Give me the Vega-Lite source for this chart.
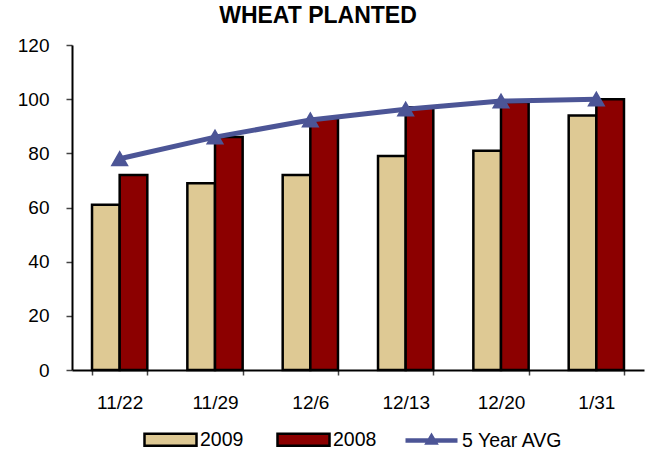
{
  "$schema": "https://vega.github.io/schema/vega-lite/v6.json",
  "autosize": "none",
  "width": 572,
  "height": 325,
  "padding": {"left": 72, "top": 45, "right": 2, "bottom": 82},
  "background": "white",
  "title": {
    "text": "WHEAT PLANTED",
    "font": "Liberation Sans",
    "fontSize": 23,
    "fontWeight": "bold",
    "color": "black",
    "anchor": "middle",
    "frame": "group",
    "dx": -40,
    "offset": 8
  },
  "config": {
    "view": {"stroke": null},
    "font": "Liberation Sans",
    "axis": {"labelFont": "Liberation Sans", "labelFontSize": 19, "labelColor": "black", "grid": false},
    "legend": {"labelFont": "Liberation Sans", "labelFontSize": 19.5, "labelColor": "black", "labelOffset": 2, "padding": 0, "title": null}
  },
  "data": {
    "values": [
      {"date": "11/22", "series": "2009", "value": 61},
      {"date": "11/29", "series": "2009", "value": 69},
      {"date": "12/6", "series": "2009", "value": 72},
      {"date": "12/13", "series": "2009", "value": 79},
      {"date": "12/20", "series": "2009", "value": 81},
      {"date": "1/31", "series": "2009", "value": 94},
      {"date": "11/22", "series": "2008", "value": 72},
      {"date": "11/29", "series": "2008", "value": 86},
      {"date": "12/6", "series": "2008", "value": 93},
      {"date": "12/13", "series": "2008", "value": 97},
      {"date": "12/20", "series": "2008", "value": 99},
      {"date": "1/31", "series": "2008", "value": 100},
      {"date": "11/22", "series": "5 Year AVG", "value": 78},
      {"date": "11/29", "series": "5 Year AVG", "value": 86},
      {"date": "12/6", "series": "5 Year AVG", "value": 92.3},
      {"date": "12/13", "series": "5 Year AVG", "value": 96.3},
      {"date": "12/20", "series": "5 Year AVG", "value": 99.3},
      {"date": "1/31", "series": "5 Year AVG", "value": 100}
    ]
  },
  "encoding": {
    "x": {
      "field": "date",
      "type": "nominal",
      "sort": null,
      "title": null,
      "scale": {"paddingInner": 0.42, "paddingOuter": 0.21},
      "axis": {
        "labelAngle": 0,
        "tickBand": "extent",
        "domainColor": "black",
        "domainWidth": 2,
        "tickColor": "#444",
        "tickWidth": 1.5,
        "tickSize": 5,
        "labelPadding": 18
      }
    },
    "y": {
      "field": "value",
      "type": "quantitative",
      "title": null,
      "scale": {"domain": [0, 120], "nice": false},
      "axis": {
        "values": [0, 20, 40, 60, 80, 100, 120],
        "domainColor": "black",
        "domainWidth": 2,
        "tickColor": "#444",
        "tickWidth": 1.5,
        "tickSize": 6,
        "labelPadding": 17
      }
    }
  },
  "layer": [
    {
      "transform": [{"filter": "datum.series !== '5 Year AVG'"}],
      "mark": {"type": "bar", "stroke": "black", "strokeWidth": 2.5, "fillOpacity": 1},
      "encoding": {
        "xOffset": {"field": "series", "type": "nominal", "sort": ["2009", "2008"], "scale": {"paddingInner": 0, "paddingOuter": 0}},
        "fill": {
          "field": "series",
          "type": "nominal",
          "sort": ["2009", "2008"],
          "scale": {"domain": ["2009", "2008"], "range": ["#DEC994", "#8C0000"]},
          "legend": {
            "orient": "none",
            "legendX": 71,
            "legendY": 367,
            "direction": "horizontal",
            "columnPadding": 28,
            "symbolType": "M-1,-0.23H1V0.23H-1Z",
            "symbolSize": 2704,
            "symbolStrokeColor": "black",
            "symbolStrokeWidth": 2.5,
            "symbolOpacity": 1
          }
        }
      }
    },
    {
      "transform": [{"filter": "datum.series === '5 Year AVG'"}],
      "mark": {"type": "line", "strokeWidth": 5, "point": {"shape": "triangle-up", "size": 220, "filled": true, "fill": "#4C5596", "opacity": 1}},
      "encoding": {
        "stroke": {
          "field": "series",
          "type": "nominal",
          "scale": {"domain": ["5 Year AVG"], "range": ["#4C5596"]},
          "legend": {
            "orient": "none",
            "legendX": 331,
            "legendY": 367,
            "direction": "horizontal",
            "symbolType": "M-1,0H1M-0.13,0.08L0,-0.14L0.13,0.08Z",
            "symbolSize": 2704,
            "symbolStrokeWidth": 4.5,
            "symbolFillColor": "#4C5596",
            "symbolOpacity": 1
          }
        }
      }
    }
  ]
}
